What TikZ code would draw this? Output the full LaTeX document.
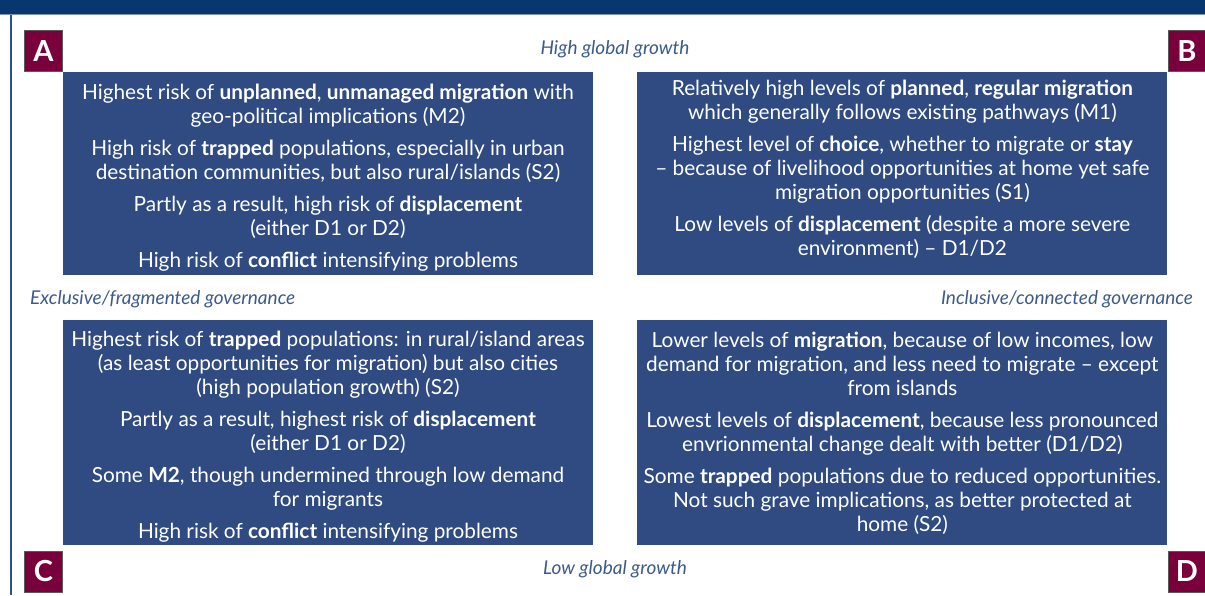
\documentclass[tikz,border=0pt]{standalone}
\usepackage{fontspec}
\setmainfont{Lato}
\usetikzlibrary{positioning}
\definecolor{panelblue}{HTML}{2F4B82}
\definecolor{barblue}{HTML}{06376F}
\definecolor{tagred}{HTML}{7A003C}
\definecolor{labelblue}{HTML}{3B5A8C}
\definecolor{edgeblue}{HTML}{2A5090}
\newcommand{\topgap}{\rule{0pt}{23pt}}
\newcommand{\botgap}{\rule[-12pt]{0pt}{12pt}}
\begin{document}
\begin{tikzpicture}[x=1pt, y=1pt, node distance=45pt and 44pt,
  panel/.style = {fill=panelblue, text=white, minimum width=530pt, inner sep=0pt, align=center, font=\fontsize{20.8}{24}\selectfont},
  tag/.style = {fill=tagred, draw=black!65, line width=0.8pt, text=white, minimum width=38pt, minimum height=41pt, inner sep=0pt, font=\fontsize{29}{29}\selectfont\bfseries},
  axis/.style = {text=labelblue, inner sep=0pt, font=\fontsize{19}{22}\selectfont\itshape}]
\useasboundingbox (0,0) rectangle (1205,-595);
\fill[barblue] (0,0) rectangle (1205,-14);
\draw[edgeblue!60, line width=1pt] (0,-14.5) -- (1205,-14.5);
\draw[edgeblue, line width=2.5pt] (11,-15) -- (11,-595);
\node[panel, minimum height=203pt] (boxA) at (328,-173.5) {\topgap Highest risk of \textbf{unplanned}, \textbf{unmanaged migration} with\\ geo-political implications (M2)\\[8pt] High risk of \textbf{trapped} populations, especially in urban\\ destination communities, but also rural/islands (S2)\\[8pt] Partly as a result, high risk of \textbf{displacement}\\ (either D1 or D2)\\[8pt] High risk of \textbf{conflict} intensifying problems};
\node[panel, minimum height=203pt] (boxB) [right=of boxA] {Relatively high levels of \textbf{planned}, \textbf{regular migration}\\ which generally follows existing pathways (M1)\\[8pt] Highest level of \textbf{choice}, whether to migrate or \textbf{stay}\\ -- because of livelihood opportunities at home yet safe\\ migration opportunities (S1)\\[8pt] Low levels of \textbf{displacement} (despite a more severe\\ environment) -- D1/D2\botgap};
\node[panel, minimum height=225pt] (boxC) [below=of boxA] {\topgap Highest risk of \textbf{trapped} populations: in rural/island areas\\ (as least opportunities for migration) but also cities\\ (high population growth) (S2)\\[8pt] Partly as a result, highest risk of \textbf{displacement}\\ (either D1 or D2)\\[8pt] Some \textbf{M2}, though undermined through low demand\\ for migrants\\[8pt] High risk of \textbf{conflict} intensifying problems};
\node[panel, minimum height=225pt] (boxD) [right=of boxC] {Lower levels of \textbf{migration}, because of low incomes, low\\ demand for migration, and less need to migrate -- except\\ from islands\\[8pt] Lowest levels of \textbf{displacement}, because less pronounced\\ envrionmental change dealt with better (D1/D2)\\[8pt] Some \textbf{trapped} populations due to reduced opportunities.\\ Not such grave implications, as better protected at\\ home (S2)};
\node[tag, anchor=south east] (tagA) at (boxA.north west) {A};
\node[tag, anchor=south west] (tagB) at (boxB.north east) {B};
\node[tag, anchor=north east] (tagC) at ([yshift=-5pt]boxC.south west) {C};
\node[tag, anchor=north west] (tagD) at ([yshift=-5pt]boxD.south east) {D};
\node[axis] (high) at (615,-49) {High global growth};
\node[axis] (low) at (615,-569) {Low global growth};
\node[axis, anchor=west] (excl) at (30,-299) {Exclusive/fragmented governance};
\node[axis, anchor=east] (incl) at (1193,-299) {Inclusive/connected governance};
\end{tikzpicture}
\end{document}
